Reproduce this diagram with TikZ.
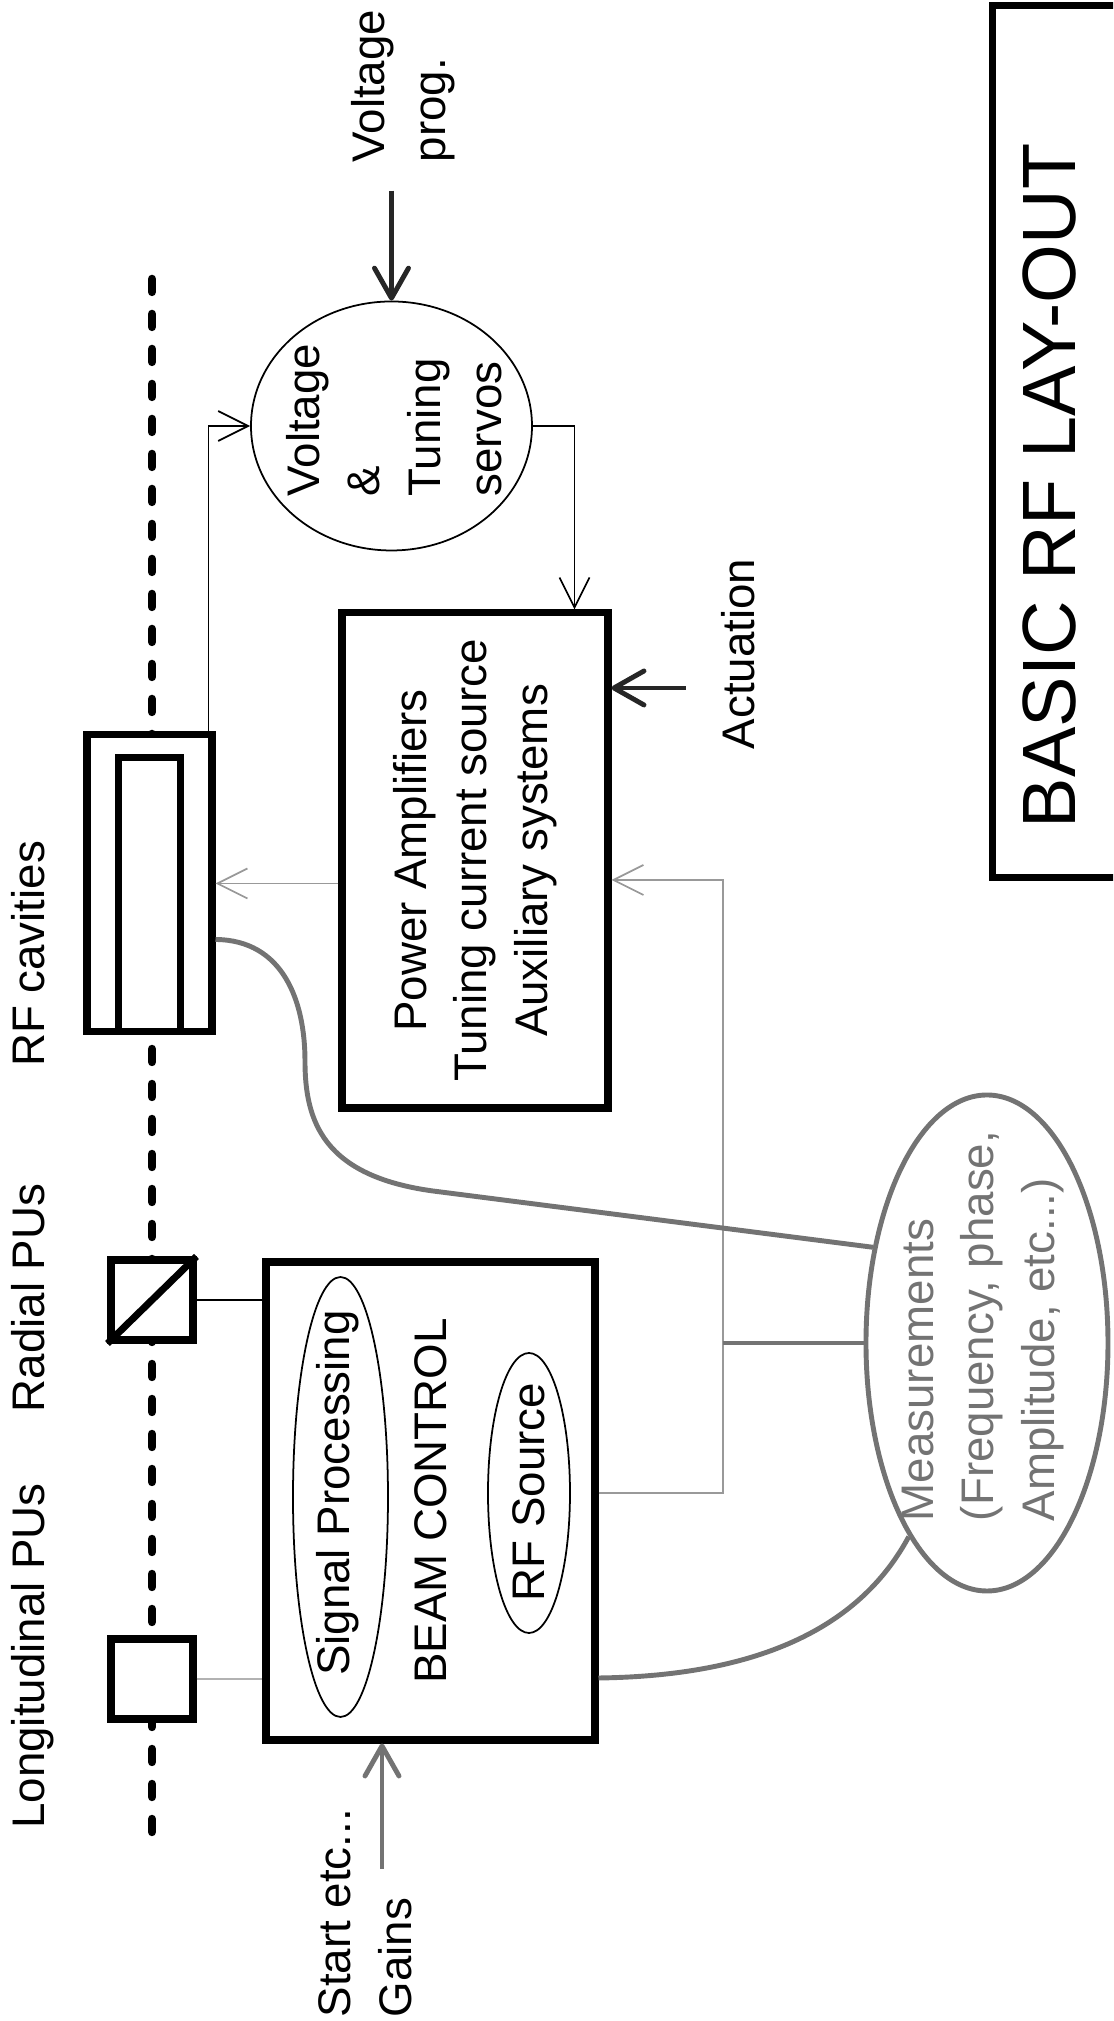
\documentclass[tikz,border=0pt]{standalone}
\usepackage{fontspec}
\setmainfont{Liberation Sans}
\usepackage{tikz}
\usetikzlibrary{arrows.meta,shapes.geometric}
\usepackage{xcolor}
\definecolor{dither}{gray}{0.45}
\definecolor{faint}{gray}{0.6}

\tikzset{
  box/.style={draw, line width=2pt, fill=white, inner sep=0pt},
  pu/.style={box, minimum width=0.8cm, minimum height=0.82cm},
  bubble/.style={draw, ellipse, line width=0.5pt, inner sep=0pt},
  txt/.style={font=\fontsize{13}{17.3}\selectfont, inner sep=0pt},
  sig/.style={->, line width=0.5pt},
  feed/.style={sig, draw=faint},
  heavy/.style={-{Straight Barb[length=3mm, width=3.4mm, round]}, line width=1.4pt},
  meas/.style={draw=dither, line width=1.4pt},
}

\begin{document}
\begin{tikzpicture}[rotate=90, transform shape, >={Straight Barb[length=3mm, width=3mm]}]
    \path[use as bounding box] (0,0) rectangle (20.21,11.13);
    \clip (0,0) rectangle (20.21,11.13);

    \coordinate (beamin) at (1.89,9.61);
    \coordinate (beamout) at (17.44,9.61);
    \draw[line width=2.4pt, line cap=round, dash pattern=on 0.13cm off 0.22cm] (beamin) -- (beamout);

    \node[pu] (lpu) at (3.42,9.61) {};
    \node[pu] (rpu) at (7.21,9.61) {};
    \draw[line width=2pt] (rpu.north west) -- (rpu.south east);
    \node[box, minimum width=2.97cm, minimum height=1.25cm] (cav) at (11.375,9.635) {};
    \node[box, minimum width=2.74cm, minimum height=0.62cm, anchor=west] (cavin) at (cav.west) {};

    \node[txt, anchor=base] (lpulab) at (3.65,10.68) {Longitudinal PUs};
    \node[txt, anchor=base] (rpulab) at (7.23,10.68) {Radial PUs};
    \node[txt, anchor=base] (cavlab) at (10.67,10.68) {RF cavities};

    \node[box, txt, minimum width=4.78cm, minimum height=3.29cm] (bc) at (5.20,6.825) {BEAM CONTROL};
    \node[bubble, minimum width=4.40cm, minimum height=0.95cm] (sp) at (5.24,7.725) {};
    \node[txt] (sptext) at (5.28,7.75) {Signal Processing};
    \node[bubble, minimum width=2.80cm, minimum height=0.82cm] (rfs) at (5.28,5.84) {};
    \node[txt] (rfstext) at (5.29,5.84) {RF Source};

    \node[box, txt, align=center, minimum width=4.95cm, minimum height=2.66cm] (pa) at (11.605,6.38)
      {Power Amplifiers\\Tuning current source\\Auxiliary systems};

    \node[bubble, minimum width=2.49cm, minimum height=2.81cm] (servo) at (15.95,7.215) {};
    \node[txt, align=left, anchor=west] (servotext) at (15.24,7.19) {Voltage\\\&\\Tuning\\servos};

    \node[draw=dither, ellipse, line width=1.4pt, minimum width=4.96cm, minimum height=2.42cm] (meas) at (6.78,1.26) {};
    \node[txt, text=dither, align=left] (meastext) at (6.95,1.30)
      {Measurements\\(Frequency, phase,\\Amplitude, etc...)};

    \node[box, minimum width=8.72cm, minimum height=1.84cm, anchor=north west] (titlebox) at (11.40,1.24) {};
    \node[font=\fontsize{21.5}{26}\selectfont, inner sep=0pt, anchor=base] (title) at (15.35,0.38) {BASIC RF LAY-OUT};

    \node[txt, align=left, anchor=west] (vprog) at (18.58,7.1) {Voltage\\prog.};
    \node[txt] (act) at (13.67,3.75) {Actuation};
    \node[txt, align=left, anchor=west] (start) at (0.03,7.48) {Start etc...\\Gains};

    \draw[line width=0.5pt, draw=gray!60] (lpu.south) -- (bc.north -| lpu.south);
    \draw[line width=0.5pt] (rpu.south) -- (bc.north -| rpu.south);

    \coordinate (startin) at (1.52,7.31);
    \draw[heavy, draw=dither] (startin) -- (bc.west |- startin);

    \coordinate (vin) at ([xshift=11mm]servo.east);
    \draw[heavy, draw=black!85] (vin) -- (servo.east);

    \draw[sig] ([yshift=0.7mm]cav.south east) -| (servo.north);
    \draw[sig] (servo.south) |- ([yshift=3.7mm]pa.south east);

    \coordinate (actin) at (13.33,4.27);
    \draw[heavy, draw=black!85] (actin) -- (pa.south -| actin);

    \draw[feed] (pa.north -| cav.south) -- (cav.south);

    \coordinate (rfbus) at (11.41,3.90);
    \draw[feed] (rfs |- bc.south) |- (rfbus) -- (pa.south -| rfbus);

    \draw[meas] (meas.north |- rfbus) -- (meas.north);
    \draw[meas] ([xshift=-5.6mm]cav.south) .. controls (10.81,8.3) and (10.2,8.08) .. (9.6,8.08)
      .. controls (9.0,8.08) and (8.45,7.9) .. (8.3,6.8) -- (meas.50);
    \draw[meas] ([xshift=-17.7mm]bc.south) .. controls (3.45,3.6) and (3.9,2.55) .. (meas.158);
\end{tikzpicture}
\end{document}
